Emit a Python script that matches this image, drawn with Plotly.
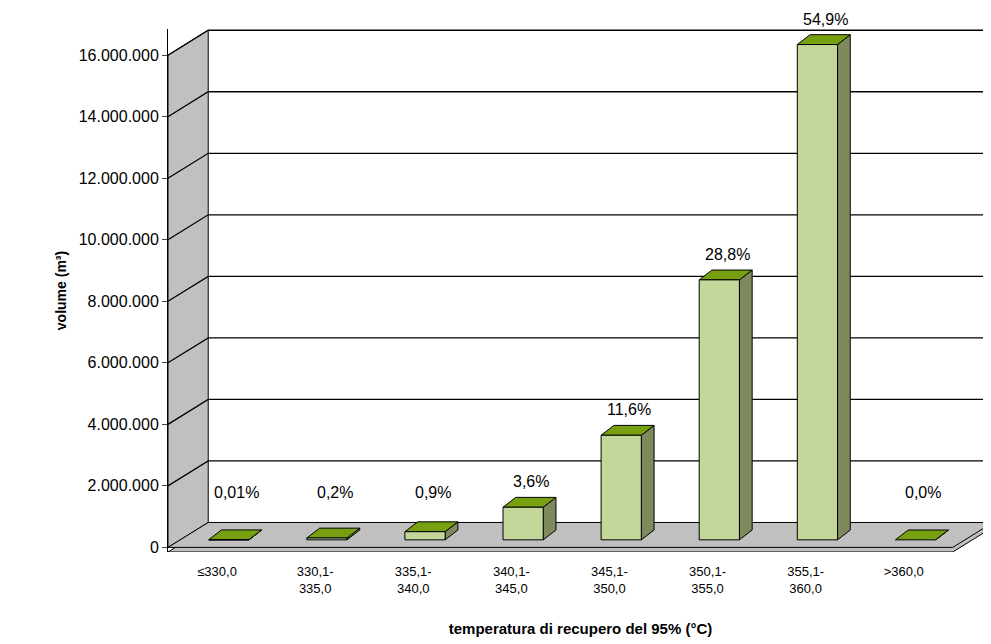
import plotly.graph_objects as go

categories = ['≤330,0', '330,1-<br>335,0', '335,1-<br>340,0', '340,1-<br>345,0',
              '345,1-<br>350,0', '350,1-<br>355,0', '355,1-<br>360,0', '>360,0']
volumes = [3000, 60000, 265000, 1060000, 3400000, 8450000, 16100000, 0]
percent_labels = ['0,01%', '0,2%', '0,9%', '3,6%', '11,6%', '28,8%', '54,9%', '0,0%']
tick_values = [0, 2000000, 4000000, 6000000, 8000000, 10000000, 12000000, 14000000, 16000000]
tick_labels = ['0', '2.000.000', '4.000.000', '6.000.000', '8.000.000', '10.000.000',
               '12.000.000', '14.000.000', '16.000.000']

# fake 3D depth (category units / volume units)
wall_dx, wall_dy = 0.41, 810000
bar_w, bar_dx, bar_dy = 0.41, 0.13, 320000
front_col = '#c4d79b'
side_col = '#7f8a5c'
top_col = '#76a010'
gray = '#c0c0c0'

fig = go.Figure()


def poly(xs, ys, fill, width=1):
    fig.add_trace(go.Scatter(x=xs + [xs[0]], y=ys + [ys[0]], mode='lines', fill='toself',
                             fillcolor=fill, line=dict(color='black', width=width),
                             hoverinfo='skip', showlegend=False, cliponaxis=False))


n = len(categories)
x0, x1 = -0.5, n - 0.5
top = tick_values[-1]
# left wall and floor
poly([x0, x0 + wall_dx, x0 + wall_dx, x0], [0, wall_dy, top + wall_dy, top], gray)
poly([x0, x1, x1 + wall_dx, x0 + wall_dx], [-150000, -150000, wall_dy - 150000, wall_dy - 150000], gray)
poly([x0, x1, x1 + wall_dx, x0 + wall_dx], [0, 0, wall_dy, wall_dy], gray)
# gridlines
for t in tick_values[1:]:
    fig.add_trace(go.Scatter(x=[x0, x0 + wall_dx, x1 + wall_dx], y=[t, t + wall_dy, t + wall_dy],
                             mode='lines', line=dict(color='black', width=1.3),
                             hoverinfo='skip', showlegend=False))

# bars
for i, v in enumerate(volumes):
    bl = i - bar_w / 2 + 0.12
    br = bl + bar_w
    b0 = wall_dy / 2 - bar_dy / 2
    poly([br, br + bar_dx, br + bar_dx, br], [b0, b0 + bar_dy, b0 + v + bar_dy, b0 + v], side_col)
    poly([bl, br, br + bar_dx, bl + bar_dx], [b0 + v, b0 + v, b0 + v + bar_dy, b0 + v + bar_dy], top_col)
    if v > 0:
        poly([bl, br, br, bl], [b0, b0, b0 + v, b0 + v], front_col)
    fig.add_annotation(x=i + 0.2, y=max(v, 700000), text=percent_labels[i],
                       showarrow=False, yshift=33, font=dict(size=16, color='black'))

fig.update_layout(
    width=991, height=644, plot_bgcolor='white', paper_bgcolor='white',
    margin=dict(l=160, r=6, t=21, b=100),
    font=dict(family='Liberation Sans, Arial', size=13, color='black'),
    xaxis=dict(range=[x0, x1 + wall_dx], tickvals=list(range(n)), ticktext=categories,
               showgrid=False, zeroline=False, ticks='', tickfont=dict(size=13),
               ticklabelstandoff=10,
               title=dict(text='<b>temperatura di recupero del 95% (°C)</b>', font=dict(size=15),
                          standoff=28)),
    yaxis=dict(range=[-150000, 16850000], tickvals=tick_values, ticktext=tick_labels,
               showgrid=False, zeroline=False, showline=True, linecolor='black', ticks='outside',
               ticklen=5, tickfont=dict(size=16),
               title=dict(text='<b>volume (m³)</b>', font=dict(size=14), standoff=8)),
)

fig.write_html('out.html')
